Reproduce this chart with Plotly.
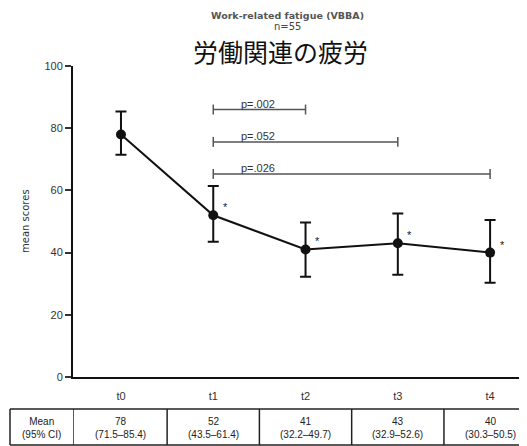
import plotly.graph_objects as go

# ---- data ----
timepoints = ["t0", "t1", "t2", "t3", "t4"]
means = [78, 52, 41, 43, 40]
ci_low = [71.5, 43.5, 32.2, 32.9, 30.3]
ci_high = [85.4, 61.4, 49.7, 52.6, 50.5]
significant = [False, True, True, True, True]
comp_from = ["t1", "t1", "t1"]
comp_to = ["t2", "t3", "t4"]
comp_p = ["p=.002", "p=.052", "p=.026"]
y_ticks = [0, 20, 40, 60, 80, 100]

# ---- layout constants (page body has an 8px margin) ----
OFF = 8
W, H = 527 - OFF, 446 - OFF
ML, MR, MT, MB = 73 - OFF, 0, 66 - OFF, 446 - 377
plot_h = H - MT - MB
bracket_levels = [86, 75.6, 65.3]
xmin, xmax = -0.52, 4.4

def py2paper(py):
    # py: pixel y in the reference screenshot
    return (446 - MB - py) / plot_h

def px2paper(px):
    # px: pixel x in the reference screenshot
    return (px - 73) / (W - ML - MR)

xi = list(range(len(timepoints)))
err_plus = [h - m for h, m in zip(ci_high, means)]
err_minus = [m - l for m, l in zip(means, ci_low)]

fig = go.Figure()
fig.add_trace(go.Scatter(
    x=xi, y=means, mode="lines+markers",
    line=dict(color="#111", width=2),
    marker=dict(color="#111", size=10),
    error_y=dict(type="data", symmetric=False, array=err_plus, arrayminus=err_minus,
                 color="#111", thickness=2, width=5.5),
    showlegend=False, hoverinfo="skip",
))

shapes = []
annotations = []
lc = "#555"
tick_h = 1.6
for a, b, p, lev in zip(comp_from, comp_to, comp_p, bracket_levels):
    x0 = timepoints.index(a)
    x1 = timepoints.index(b)
    shapes.append(dict(type="line", xref="x", yref="y", x0=x0, x1=x1, y0=lev, y1=lev,
                       line=dict(color=lc, width=1.5)))
    for xx in (x0, x1):
        shapes.append(dict(type="line", xref="x", yref="y", x0=xx, x1=xx,
                           y0=lev - tick_h, y1=lev + tick_h, line=dict(color=lc, width=1.5)))
    annotations.append(dict(x=x0, y=lev, xref="x", yref="y", text=p, showarrow=False,
                            xanchor="left", yanchor="bottom", xshift=26, yshift=-2,
                            font=dict(family="Liberation Sans", size=11, color="#333")))

for i, (m, s) in enumerate(zip(means, significant)):
    if s:
        annotations.append(dict(x=i, y=m, xref="x", yref="y", text="*", showarrow=False,
                                xanchor="center", yanchor="middle",
                                xshift=12, yshift=8,
                                font=dict(family="Liberation Sans", size=11, color="#222")))

# ---- table under the chart ----
tbl_top = py2paper(409)
tbl_bot = py2paper(445)
tbl_mid = py2paper(428)
tcol = "#222"
hline = dict(color=tcol, width=1.5)
shapes.append(dict(type="line", xref="paper", yref="paper", x0=px2paper(10), x1=1,
                   y0=tbl_top, y1=tbl_top, line=hline))
shapes.append(dict(type="line", xref="paper", yref="paper", x0=px2paper(10), x1=1,
                   y0=tbl_bot, y1=tbl_bot, line=hline))
shapes.append(dict(type="line", xref="paper", yref="paper", x0=px2paper(10), x1=px2paper(10),
                   y0=tbl_top, y1=tbl_bot, line=hline))
shapes.append(dict(type="line", xref="x", yref="paper", x0=xmin, x1=xmin,
                   y0=tbl_top, y1=tbl_bot, line=hline))
for i in xi[:-1]:
    shapes.append(dict(type="line", xref="x", yref="paper", x0=i + 0.5, x1=i + 0.5,
                       y0=tbl_top, y1=tbl_bot, line=hline))
shapes.append(dict(type="line", xref="paper", yref="paper", x0=0.998, x1=0.998,
                   y0=tbl_top, y1=tbl_bot, line=hline))

tfont = dict(family="Liberation Sans", size=10, color="#222")
annotations.append(dict(x=px2paper(41), y=tbl_mid, xref="paper", yref="paper",
                        xanchor="center", yanchor="middle",
                        text="Mean<br>(95% CI)", showarrow=False, font=tfont))
for i, (m, lo, hi) in enumerate(zip(means, ci_low, ci_high)):
    annotations.append(dict(x=i, y=tbl_mid, xref="x", yref="paper",
                            xanchor="center", yanchor="middle",
                            text=f"{m}<br>({lo:.1f}\u2013{hi:.1f})", showarrow=False, font=tfont))

# ---- titles ----
annotations.append(dict(x=px2paper(287), y=py2paper(27), xref="paper", yref="paper",
                        xanchor="center", yanchor="middle",
                        text="n=55", showarrow=False,
                        font=dict(family="DejaVu Sans", size=10, color="#444")))
annotations.append(dict(x=px2paper(287), y=py2paper(15), xref="paper", yref="paper",
                        xanchor="center", yanchor="middle",
                        text="<b>Work-related fatigue (VBBA)</b>", showarrow=False,
                        font=dict(family="DejaVu Sans", size=9.5, color="#555")))
annotations.append(dict(x=px2paper(280), y=py2paper(51), xref="paper", yref="paper",
                        xanchor="center", yanchor="middle",
                        text="労働関連の疲労", showarrow=False,
                        font=dict(family="Noto Sans CJK JP", size=25, color="#111")))
annotations.append(dict(x=px2paper(25), y=py2paper(221), xref="paper", yref="paper",
                        xanchor="center", yanchor="middle",
                        text="mean scores", showarrow=False, textangle=-90,
                        font=dict(family="DejaVu Sans", size=10, color="#333")))

fig.update_layout(
    width=W, height=H,
    margin=dict(l=ML, r=MR, t=MT, b=MB, autoexpand=False),
    paper_bgcolor="white", plot_bgcolor="white",
    shapes=shapes, annotations=annotations,
    xaxis=dict(range=[xmin, xmax], tickvals=xi, ticktext=timepoints,
               showgrid=False, zeroline=False, showline=True, linecolor="#111", linewidth=2,
               ticks="", ticklabelstandoff=8,
               tickfont=dict(family="Liberation Sans", size=11, color="#333")),
    yaxis=dict(range=[0, 100], tickvals=y_ticks, showgrid=False, zeroline=False,
               showline=True, linecolor="#111", linewidth=2,
               ticks="outside", ticklen=6, tickwidth=1.5, tickcolor="#333",
               tickfont=dict(family="Liberation Sans", size=11, color="#333")),
)

fig.write_html("out.html")
